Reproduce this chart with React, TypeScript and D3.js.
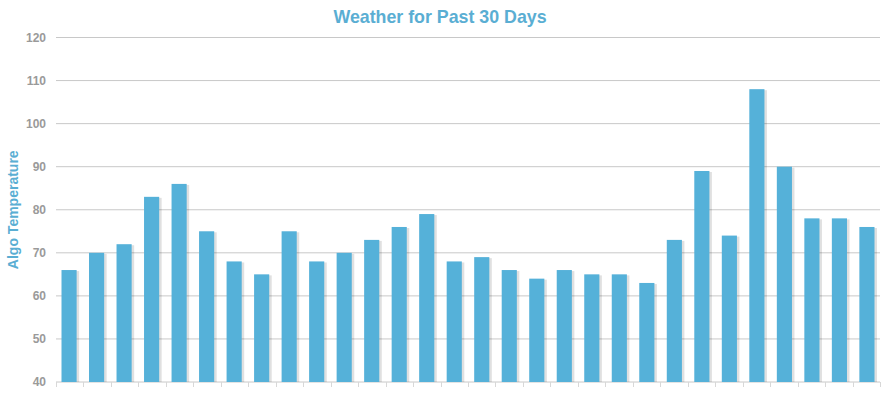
import React from "react";
import * as d3 from "d3";

const days: string[] = Array.from({ length: 30 }, (_, i) => `Day ${i + 1}`);
const temperatures: number[] = [66, 70, 72, 83, 86, 75, 68, 65, 75, 68, 70, 73, 76, 79, 68, 69, 66, 64, 66, 65, 65, 63, 73, 89, 74, 108, 90, 78, 78, 76];
const yTicks: number[] = [40, 50, 60, 70, 80, 90, 100, 110, 120];

const W = 891, H = 396;
const left = 56, right = 880, top = 37.5, bottom = 382;

export default function App() {
  const x = d3.scaleBand<string>().domain(days).range([left, right]).paddingInner(0.45).paddingOuter(0.2);
  const band = d3.scaleBand<string>().domain(days).range([left, right]);
  const y = d3.scaleLinear().domain([40, 120]).range([bottom, top]);
  const font = "Arial, 'Liberation Sans', sans-serif";
  return (
    <svg width={W} height={H} style={{ position: "absolute", left: 0, top: 0 }}>
      <rect width={W} height={H} fill="#fff" />
      <text x={440} y={23} textAnchor="middle" fontFamily={font} fontWeight="bold" fontSize={17.8} fill="#5aaed3">Weather for Past 30 Days</text>
      <text transform={`translate(18,${(top + bottom) / 2}) rotate(-90)`} textAnchor="middle" fontFamily={font} fontWeight="bold" fontSize={14} fill="#5aaed3">Algo Temperature</text>
      {yTicks.map((t) => (
        <g key={t}>
          <line x1={left} x2={right} y1={y(t)} y2={y(t)} stroke="#c8c8c8" strokeWidth={1} />
          <text x={46} y={y(t) + 4} textAnchor="end" fontFamily={font} fontWeight="bold" fontSize={12} fill="#9a9a9a">{t}</text>
        </g>
      ))}
      {days.map((d) => (
        <line key={d} x1={Math.round(band(d)!) + 0.5} x2={Math.round(band(d)!) + 0.5} y1={bottom} y2={bottom + 5} stroke="#d8d8d8" />
      ))}
      <line x1={right + 0.5} x2={right + 0.5} y1={bottom} y2={bottom + 5} stroke="#d8d8d8" />
      {days.map((d, i) => {
        const v = temperatures[i];
        const bx = x(d)!, bw = x.bandwidth();
        return (
          <g key={d}>
            <rect x={bx + 1} y={y(v) + 1} width={bw + 1.5} height={bottom - y(v) - 1} fill="#000" opacity={0.12} />
            <rect x={bx} y={y(v)} width={bw} height={bottom - y(v)} fill="#55b1d9" />
          </g>
        );
      })}
    </svg>
  );
}
